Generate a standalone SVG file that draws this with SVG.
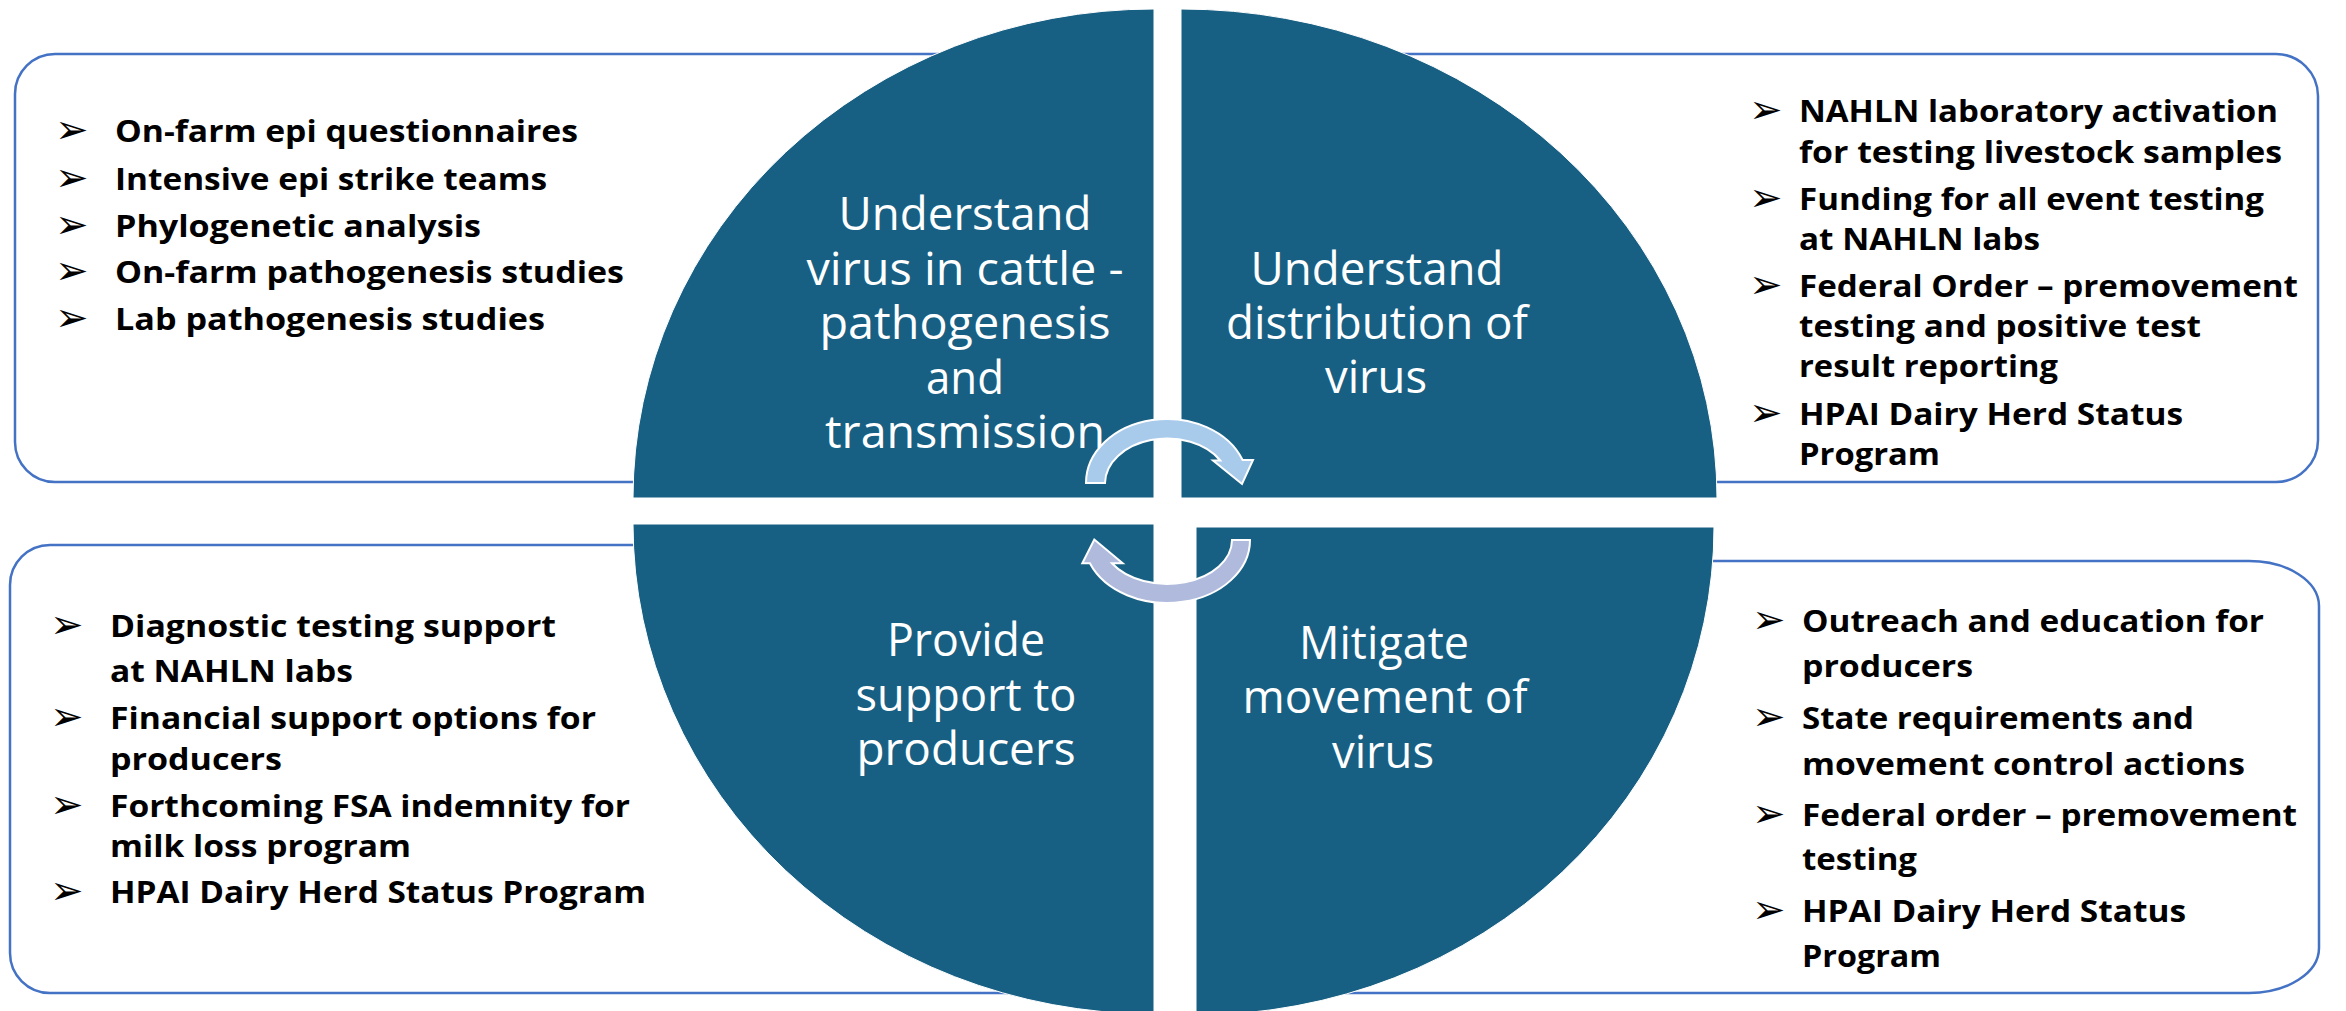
<svg xmlns="http://www.w3.org/2000/svg" width="2346" height="1011" viewBox="0 0 2346 1011">
  <style>
    .box { fill: #ffffff; stroke: #4472C4; stroke-width: 2.5; }
    .quad { fill: #186083; stroke: #ffffff; stroke-width: 1; }
    .lbl { font-family: "Open Sans", "Liberation Sans", sans-serif; font-size: 46px; fill: #ffffff; text-anchor: middle; }
    .bt { font-family: "Open Sans", "Liberation Sans", sans-serif; font-weight: 700; font-size: 31px; fill: #000000; }
    .bul { font-family: "DejaVu Sans", sans-serif; font-size: 40px; fill: #000000; }
    .arrowA { fill: #A9CBEB; stroke: #ffffff; stroke-width: 2; stroke-linejoin: miter; }
    .arrowB { fill: #AFBADD; stroke: #ffffff; stroke-width: 2; stroke-linejoin: miter; }
  </style>

  <!-- Activity panels behind the circle -->
  <g id="panel-understand-cattle">
    <rect class="box" x="15" y="54" width="1100" height="428" rx="40" ry="40"/>
    <text class="bul" x="55" y="143">➢</text>
    <text class="bt" x="115" y="142" textLength="463" lengthAdjust="spacingAndGlyphs">On-farm epi questionnaires</text>
    <text class="bul" x="55" y="191">➢</text>
    <text class="bt" x="115" y="190" textLength="432" lengthAdjust="spacingAndGlyphs">Intensive epi strike teams</text>
    <text class="bul" x="55" y="238">➢</text>
    <text class="bt" x="115" y="237" textLength="366" lengthAdjust="spacingAndGlyphs">Phylogenetic analysis</text>
    <text class="bul" x="55" y="284">➢</text>
    <text class="bt" x="115" y="283" textLength="509" lengthAdjust="spacingAndGlyphs">On-farm pathogenesis studies</text>
    <text class="bul" x="55" y="331">➢</text>
    <text class="bt" x="115" y="330" textLength="430" lengthAdjust="spacingAndGlyphs">Lab pathogenesis studies</text>
  </g>

  <g id="panel-understand-distribution">
    <rect class="box" x="1200" y="54" width="1118" height="428" rx="42" ry="42"/>
    <text class="bul" x="1749" y="123">➢</text>
    <text class="bt" x="1799" y="122" textLength="479" lengthAdjust="spacingAndGlyphs">NAHLN laboratory activation</text>
    <text class="bt" x="1799" y="163" textLength="483" lengthAdjust="spacingAndGlyphs">for testing livestock samples</text>
    <text class="bul" x="1749" y="211">➢</text>
    <text class="bt" x="1799" y="210" textLength="465" lengthAdjust="spacingAndGlyphs">Funding for all event testing</text>
    <text class="bt" x="1799" y="250" textLength="241" lengthAdjust="spacingAndGlyphs">at NAHLN labs</text>
    <text class="bul" x="1749" y="298">➢</text>
    <text class="bt" x="1799" y="297" textLength="499" lengthAdjust="spacingAndGlyphs">Federal Order – premovement</text>
    <text class="bt" x="1799" y="337" textLength="402" lengthAdjust="spacingAndGlyphs">testing and positive test</text>
    <text class="bt" x="1799" y="377" textLength="259" lengthAdjust="spacingAndGlyphs">result reporting</text>
    <text class="bul" x="1749" y="426">➢</text>
    <text class="bt" x="1799" y="425" textLength="384" lengthAdjust="spacingAndGlyphs">HPAI Dairy Herd Status</text>
    <text class="bt" x="1799" y="465" textLength="141" lengthAdjust="spacingAndGlyphs">Program</text>
  </g>

  <g id="panel-support-producers">
    <rect class="box" x="10" y="545" width="1100" height="448" rx="40" ry="40"/>
    <text class="bul" x="50" y="638">➢</text>
    <text class="bt" x="110" y="637" textLength="446" lengthAdjust="spacingAndGlyphs">Diagnostic testing support</text>
    <text class="bt" x="110" y="682" textLength="243" lengthAdjust="spacingAndGlyphs">at NAHLN labs</text>
    <text class="bul" x="50" y="730">➢</text>
    <text class="bt" x="110" y="729" textLength="486" lengthAdjust="spacingAndGlyphs">Financial support options for</text>
    <text class="bt" x="110" y="770" textLength="172" lengthAdjust="spacingAndGlyphs">producers</text>
    <text class="bul" x="50" y="818">➢</text>
    <text class="bt" x="110" y="817" textLength="520" lengthAdjust="spacingAndGlyphs">Forthcoming FSA indemnity for</text>
    <text class="bt" x="110" y="857" textLength="301" lengthAdjust="spacingAndGlyphs">milk loss program</text>
    <text class="bul" x="50" y="904">➢</text>
    <text class="bt" x="110" y="903" textLength="536" lengthAdjust="spacingAndGlyphs">HPAI Dairy Herd Status Program</text>
  </g>

  <g id="panel-mitigate-movement">
    <rect class="box" x="1200" y="561" width="1119" height="432" rx="70" ry="45"/>
    <text class="bul" x="1752" y="633">➢</text>
    <text class="bt" x="1802" y="632" textLength="462" lengthAdjust="spacingAndGlyphs">Outreach and education for</text>
    <text class="bt" x="1802" y="677" textLength="171" lengthAdjust="spacingAndGlyphs">producers</text>
    <text class="bul" x="1752" y="730">➢</text>
    <text class="bt" x="1802" y="729" textLength="392" lengthAdjust="spacingAndGlyphs">State requirements and</text>
    <text class="bt" x="1802" y="775" textLength="443" lengthAdjust="spacingAndGlyphs">movement control actions</text>
    <text class="bul" x="1752" y="827">➢</text>
    <text class="bt" x="1802" y="826" textLength="495" lengthAdjust="spacingAndGlyphs">Federal order – premovement</text>
    <text class="bt" x="1802" y="870" textLength="115" lengthAdjust="spacingAndGlyphs">testing</text>
    <text class="bul" x="1752" y="923">➢</text>
    <text class="bt" x="1802" y="922" textLength="384" lengthAdjust="spacingAndGlyphs">HPAI Dairy Herd Status</text>
    <text class="bt" x="1802" y="967" textLength="139" lengthAdjust="spacingAndGlyphs">Program</text>
  </g>

  <!-- Four quarter segments of the central cycle -->
  <g id="quad-understand-cattle">
    <path class="quad" d="M1154,498 L633,498 A521 489 0 0 1 1154,9 Z"/>
    <text class="lbl" x="965" y="230" textLength="253" lengthAdjust="spacingAndGlyphs">Understand</text>
    <text class="lbl" x="965" y="285" textLength="317" lengthAdjust="spacingAndGlyphs">virus in cattle -</text>
    <text class="lbl" x="965" y="339" textLength="291" lengthAdjust="spacingAndGlyphs">pathogenesis</text>
    <text class="lbl" x="965" y="394" textLength="78" lengthAdjust="spacingAndGlyphs">and</text>
    <text class="lbl" x="965" y="448" textLength="280" lengthAdjust="spacingAndGlyphs">transmission</text>
  </g>

  <g id="quad-understand-distribution">
    <path class="quad" d="M1181,498 L1181,9 A536 489 0 0 1 1717,498 Z"/>
    <text class="lbl" x="1377" y="285" textLength="253" lengthAdjust="spacingAndGlyphs">Understand</text>
    <text class="lbl" x="1377" y="339" textLength="302" lengthAdjust="spacingAndGlyphs">distribution of</text>
    <text class="lbl" x="1376" y="393" textLength="102" lengthAdjust="spacingAndGlyphs">virus</text>
  </g>

  <g id="quad-support-producers">
    <path class="quad" d="M1154,524 L1154,1014 A521 490 0 0 1 633,524 Z"/>
    <text class="lbl" x="966" y="656" textLength="158" lengthAdjust="spacingAndGlyphs">Provide</text>
    <text class="lbl" x="966" y="711" textLength="221" lengthAdjust="spacingAndGlyphs">support to</text>
    <text class="lbl" x="966" y="765" textLength="219" lengthAdjust="spacingAndGlyphs">producers</text>
  </g>

  <g id="quad-mitigate-movement">
    <path class="quad" d="M1196,527 L1714,527 A518 488 0 0 1 1196,1015 Z"/>
    <text class="lbl" x="1384" y="659" textLength="170" lengthAdjust="spacingAndGlyphs">Mitigate</text>
    <text class="lbl" x="1385" y="713" textLength="285" lengthAdjust="spacingAndGlyphs">movement of</text>
    <text class="lbl" x="1383" y="768" textLength="102" lengthAdjust="spacingAndGlyphs">virus</text>
  </g>

  <!-- Circular arrows linking the segments -->
  <g id="connectors">
    <path class="arrowA" d="M1086,483 A81 64 0 0 1 1242.6,460 L1253,460 L1242,484 L1213,460.5 L1220.3,460.5 A62 45 0 0 0 1105,483 Z"/>
    <path class="arrowB" d="M1250,540 A83 63 0 0 1 1089.9,563.3 L1082.3,563.3 L1094.3,539.5 L1122.7,563.3 L1111.9,563.3 A65 44 0 0 0 1232,540 Z"/>
  </g>
</svg>
